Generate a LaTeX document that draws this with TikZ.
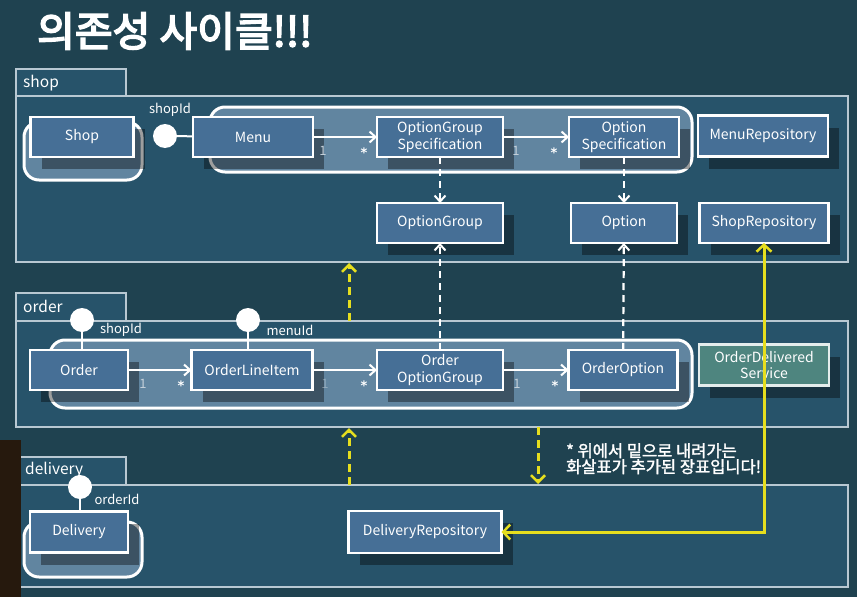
\documentclass[tikz,border=0pt]{standalone}
\usepackage{fontspec}
\setmainfont{Noto Sans CJK KR}
\newfontfamily\titlefont{Noto Sans CJK KR}[FakeBold=4]
\newfontfamily\notefont{Noto Sans CJK KR}[FakeBold=1.8]
\newfontfamily\starfont{DejaVu Sans}
\usetikzlibrary{arrows.meta,shadows}
\definecolor{bg}{HTML}{1F4250}
\definecolor{pkgfill}{HTML}{2B5A74}
\definecolor{pkgline}{HTML}{B8C8D2}
\definecolor{boxfill}{HTML}{466F96}
\definecolor{grpfill}{HTML}{7A9BB8}
\definecolor{svcfill}{HTML}{4E857F}
\definecolor{yel}{HTML}{E6DE1E}
\definecolor{multgray}{HTML}{C4D0DA}
\begin{document}
\begin{tikzpicture}[x=1pt,y=-1pt,
  pkgst/.style={draw=pkgline, line width=1.6pt, fill=pkgfill, fill opacity=0.75},
  pkglabel/.style={text=white, font=\fontsize{15.5}{17}\selectfont, anchor=west, inner sep=0pt},
  grpst/.style={draw=white, line width=3pt, fill=grpfill, fill opacity=0.7, rounded corners=15pt},
  cls/.style={draw=white, line width=2.2pt, fill=boxfill, text=white,
    font=\fontsize{14}{16.5}\selectfont, align=center, inner sep=0pt, outer sep=0pt,
    drop shadow={shadow xshift=11pt, shadow yshift=-12pt, fill=black, opacity=0.38}},
  svc/.style={cls, fill=svcfill, draw=white!85!svcfill},
  lolli/.style={circle, fill=white, minimum size=24pt, inner sep=0pt, outer sep=0pt},
  stem/.style={draw=white, line width=2pt},
  idlabel/.style={text=white, font=\fontsize{13}{15}\selectfont, inner sep=0pt},
  assoc/.style={draw=white, line width=2pt, -{Straight Barb[length=6pt,width=11pt,line width=2pt]}},
  dep/.style={draw=white, line width=2.2pt, dash pattern=on 7pt off 5pt, -{Straight Barb[length=6pt,width=11pt,line width=2pt]}},
  mult/.style={text=multgray, font=\fontsize{13}{14}\selectfont, inner sep=0pt},
  star/.style={text=white, font=\starfont\bfseries\fontsize{13}{13}\selectfont, inner sep=0pt},
  ydash/.style={draw=yel, line width=3pt, dash pattern=on 8pt off 5pt, -{Straight Barb[length=7pt,width=14pt,line width=2.5pt]}},
  ysolid/.style={draw=yel, line width=3pt, -{Straight Barb[length=7pt,width=15pt,line width=2.5pt]}}
]
\useasboundingbox (0,0) rectangle (857,597);
\fill[bg] (0,0) rectangle (857,597);

% title
\node[text=white, font=\titlefont\fontsize{41}{44}\selectfont, anchor=west, inner sep=0pt] (title) at (37,31) {의존성 사이클!!!};

% ---------------- packages ----------------
\draw[pkgst] (16,69) rectangle (126,96);
\draw[pkgst] (16,96) rectangle (848,262);
\node[pkglabel] (shoplbl) at (23,83) {shop};

\draw[pkgst] (16,293) rectangle (126,321);
\draw[pkgst] (16,321) rectangle (848,427);
\node[pkglabel] (orderlbl) at (23,306) {order};

\draw[pkgst] (16,457) rectangle (126,485);
\draw[pkgst] (16,485) rectangle (848,587);
\node[pkglabel] (deliverylbl) at (25,470) {delivery};

% ---------------- groups ----------------
\draw[grpst] (24,122) rectangle (142,180);
\draw[grpst] (210,107) rectangle (692,172);
\draw[grpst] (50,340) rectangle (692,408);
\draw[grpst] (24,522) rectangle (142,577);

% ---------------- shop classes ----------------
\node[cls, minimum width=103pt, minimum height=40pt] (shop) at (82,137) {Shop};
\node[cls, minimum width=120pt, minimum height=40pt] (menu) at (253,137) {Menu};
\node[cls, minimum width=126pt, minimum height=40pt] (ogs) at (440,137) {OptionGroup\\Specification};
\node[cls, minimum width=110pt, minimum height=40pt] (os) at (624,137) {Option\\Specification};
\node[cls, minimum width=130pt, minimum height=41pt] (menurepo) at (763,136) {MenuRepository};
\node[cls, minimum width=126pt, minimum height=40pt] (og) at (440,223) {OptionGroup};
\node[cls, minimum width=106pt, minimum height=40pt] (opt) at (624,223) {Option};
\node[cls, minimum width=129pt, minimum height=40pt] (shoprepo) at (764,223) {ShopRepository};

% ---------------- order classes ----------------
\node[cls, minimum width=98pt, minimum height=40pt] (order) at (79,370) {Order};
\node[cls, minimum width=121pt, minimum height=40pt] (oli) at (252,370) {OrderLineItem};
\node[cls, minimum width=126pt, minimum height=40pt] (oog) at (440,370) {Order\\OptionGroup};
\node[cls, minimum width=109pt, minimum height=40pt] (oopt) at (623,370) {OrderOption};
\node[svc, minimum width=130pt, minimum height=41pt] (ods) at (764,365) {OrderDelivered\\Service};

% ---------------- delivery classes ----------------
\node[cls, minimum width=98pt, minimum height=41pt] (delivery) at (79,532) {Delivery};
\node[cls, minimum width=153pt, minimum height=42pt] (delrepo) at (425,532) {DeliveryRepository};

% ---------------- lollipops ----------------
\node[lolli] (c1) at (165,136) {};
\draw[stem] (c1) -- (menu);
\node[idlabel] (c1l) at (170,110) {shopId};

\node[lolli] (c2) at (82,320) {};
\draw[stem] (c2) -- (order.north -| c2);
\node[idlabel] (c2l) at (121,330) {shopId};

\node[lolli] (c3) at (248,320) {};
\draw[stem] (c3) -- (oli.north -| c3);
\node[idlabel] (c3l) at (290,330) {menuId};

\node[lolli] (c4) at (80,487) {};
\draw[stem] (c4) -- (delivery.north -| c4);
\node[idlabel] (c4l) at (117,499) {orderId};

% ---------------- associations ----------------
\draw[assoc] (menu) -- (ogs);
\node[mult] (m1a) at (323,151) {1};
\node[star] (m1b) at (364,153) {*};
\draw[assoc] (ogs) -- (os);
\node[mult] (m2a) at (516,151) {1};
\node[star] (m2b) at (554,153) {*};

\draw[assoc] (order) -- (oli);
\node[mult] (m3a) at (143,384) {1};
\node[star] (m3b) at (181,386) {*};
\draw[assoc] (oli) -- (oog);
\node[mult, opacity=0.5] (m4a) at (325,384) {1};
\node[star] (m4b) at (364,386) {*};
\draw[assoc] (oog) -- (oopt);
\node[mult] (m5a) at (517,384) {1};
\node[star] (m5b) at (555,386) {*};

% ---------------- dependencies ----------------
\draw[dep] (ogs) -- (og);
\draw[dep] (os) -- (opt);
\draw[dep] (oog) -- (og);
\draw[dep] (oopt) -- (opt);

% ---------------- yellow ----------------
\coordinate (ya1) at (349,321);
\coordinate (ya2) at (349,263);
\coordinate (yb1) at (349,485);
\coordinate (yb2) at (349,428);
\coordinate (yc1) at (538,427);
\coordinate (yc2) at (538,484);
\draw[ydash] (ya1) -- (ya2);
\draw[ydash] (yb1) -- (yb2);
\draw[ydash] (yc1) -- (yc2);
\draw[ysolid] (ods.center) -- (shoprepo.south);
\draw[ysolid] (ods.center) |- (delrepo.east);

% note
\node[anchor=north west, align=left, text=white, inner sep=0pt,
  font=\notefont\fontsize{16.5}{16}\selectfont] (note) at (566,443) {* 위에서 밑으로 내려가는\\화살표가 추가된 장표입니다!};

% dark strip at left
\fill[black!80!brown] (0,440) rectangle (21,597);
\end{tikzpicture}
\end{document}
